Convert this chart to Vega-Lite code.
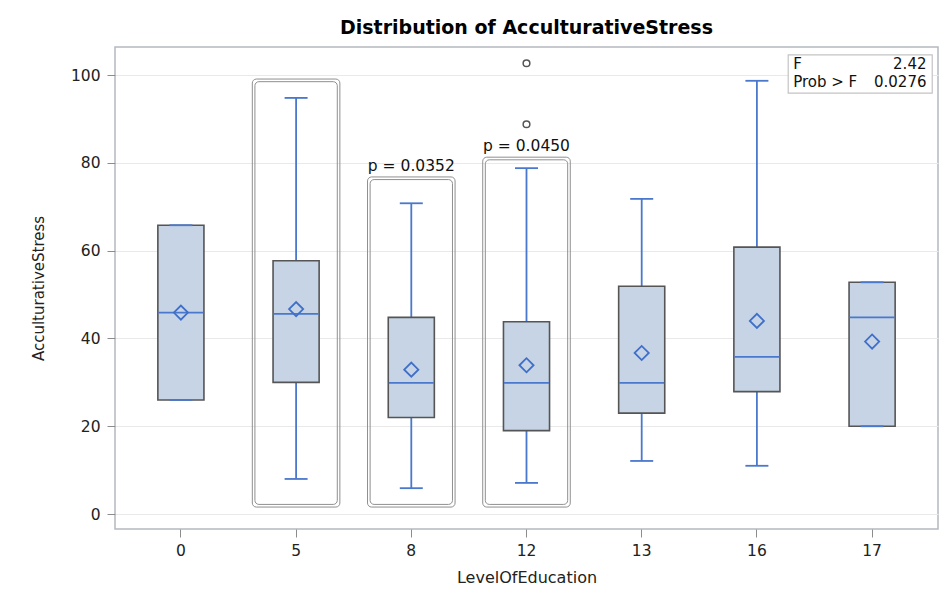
{
  "$schema": "https://vega.github.io/schema/vega-lite/v6.json",
  "width": 823,
  "height": 482,
  "autosize": "none",
  "padding": {"left": 115, "top": 47, "right": 5, "bottom": 73},
  "background": "white",
  "config": {
    "font": "DejaVu Sans",
    "view": {"stroke": "#b4b9be", "strokeWidth": 1.5},
    "axis": {"labelColor": "#222222", "titleColor": "#222222", "titleFontWeight": "normal", "domain": false, "tickColor": "#8c8c8c", "gridColor": "#e9e9e9"}
  },
  "title": {"text": "Distribution of AcculturativeStress", "fontSize": 19, "fontWeight": "bold", "font": "DejaVu Sans", "color": "#000000", "anchor": "middle", "offset": 9},
  "datasets": {
    "boxes": [
      {"cat": "0", "min": 26, "q1": 26, "median": 45.9, "q3": 65.8, "max": 65.8, "mean": 45.9},
      {"cat": "5", "min": 8, "q1": 30, "median": 45.6, "q3": 57.7, "max": 94.8, "mean": 46.7},
      {"cat": "8", "min": 5.9, "q1": 22, "median": 29.9, "q3": 44.8, "max": 70.8, "mean": 32.9},
      {"cat": "12", "min": 7.1, "q1": 19, "median": 29.9, "q3": 43.8, "max": 78.8, "mean": 33.9},
      {"cat": "13", "min": 12.1, "q1": 23, "median": 29.9, "q3": 51.9, "max": 71.8, "mean": 36.7},
      {"cat": "16", "min": 11, "q1": 27.9, "median": 35.8, "q3": 60.8, "max": 98.7, "mean": 44.0},
      {"cat": "17", "min": 20, "q1": 20, "median": 44.8, "q3": 52.8, "max": 52.8, "mean": 39.3}
    ],
    "outliers": [
      {"cat": "12", "value": 102.7},
      {"cat": "12", "value": 88.8}
    ],
    "frames": [
      {"cat": "5", "top": 99.1, "bottom": 1.6, "topIn": 98.5, "bottomIn": 2.2},
      {"cat": "8", "top": 76.8, "bottom": 1.6, "topIn": 76.2, "bottomIn": 2.2},
      {"cat": "12", "top": 81.3, "bottom": 1.6, "topIn": 80.7, "bottomIn": 2.2}
    ],
    "plabels": [
      {"cat": "8", "y": 79.2, "label": "p = 0.0352"},
      {"cat": "12", "y": 83.8, "label": "p = 0.0450"}
    ],
    "legendbox": [
      {"x1": 0.818, "x2": 0.993, "y1": 95.9, "y2": 104.6}
    ],
    "legendleft": [
      {"fx": 0.824, "fy": 102.5, "t": "F"},
      {"fx": 0.824, "fy": 98.4, "t": "Prob > F"}
    ],
    "legendright": [
      {"fx": 0.986, "fy": 102.5, "t": "2.42"},
      {"fx": 0.986, "fy": 98.4, "t": "0.0276"}
    ]
  },
  "layer": [
    {
      "layer": [
        {
          "data": {"name": "frames"},
          "mark": {"type": "bar", "fillOpacity": 0, "stroke": "#8f8f8f", "strokeWidth": 1, "width": {"band": 0.76}, "cornerRadius": 4},
          "encoding": {
            "x": {"field": "cat", "type": "nominal", "sort": ["0", "5", "8", "12", "13", "16", "17"],
                  "scale": {"type": "band", "domain": ["0", "5", "8", "12", "13", "16", "17"], "paddingInner": 0, "paddingOuter": 0.072},
                  "axis": {"title": "LevelOfEducation", "labelAngle": 0, "labelFontSize": 15.5, "titleFontSize": 16, "tickSize": 8, "labelPadding": 6, "titlePadding": 11, "grid": false}},
            "y": {"field": "top", "type": "quantitative",
                  "scale": {"domain": [-3.4, 106.4], "nice": false, "zero": false},
                  "axis": {"title": "AcculturativeStress", "values": [0, 20, 40, 60, 80, 100], "grid": true, "tickSize": 8, "labelPadding": 7, "labelFontSize": 15.5, "titleFontSize": 15, "titlePadding": 24}},
            "y2": {"field": "bottom"}
          }
        },
        {
          "data": {"name": "frames"},
          "mark": {"type": "bar", "fillOpacity": 0, "stroke": "#8f8f8f", "strokeWidth": 1, "width": {"band": 0.715}, "cornerRadius": 4},
          "encoding": {
            "x": {"field": "cat", "type": "nominal", "sort": ["0", "5", "8", "12", "13", "16", "17"]},
            "y": {"field": "topIn", "type": "quantitative"},
            "y2": {"field": "bottomIn"}
          }
        },
        {
          "data": {"name": "boxes"},
          "mark": {"type": "rule", "color": "#4a78cc", "strokeWidth": 1.8},
          "encoding": {
            "x": {"field": "cat", "type": "nominal", "sort": ["0", "5", "8", "12", "13", "16", "17"]},
            "y": {"field": "min", "type": "quantitative"},
            "y2": {"field": "max"}
          }
        },
        {
          "data": {"name": "boxes"},
          "mark": {"type": "bar", "fill": "#c6d4e6", "stroke": "#555555", "strokeWidth": 1.6, "width": {"band": 0.4}},
          "encoding": {
            "x": {"field": "cat", "type": "nominal", "sort": ["0", "5", "8", "12", "13", "16", "17"]},
            "y": {"field": "q1", "type": "quantitative"},
            "y2": {"field": "q3"}
          }
        },
        {
          "data": {"name": "boxes"},
          "mark": {"type": "tick", "color": "#4a78cc", "size": 45, "thickness": 1.8, "opacity": 1},
          "encoding": {
            "x": {"field": "cat", "type": "nominal", "sort": ["0", "5", "8", "12", "13", "16", "17"]},
            "y": {"field": "median", "type": "quantitative"}
          }
        },
        {
          "data": {"name": "boxes"},
          "mark": {"type": "tick", "color": "#4a78cc", "size": 23, "thickness": 1.8, "opacity": 1},
          "encoding": {
            "x": {"field": "cat", "type": "nominal", "sort": ["0", "5", "8", "12", "13", "16", "17"]},
            "y": {"field": "min", "type": "quantitative"}
          }
        },
        {
          "data": {"name": "boxes"},
          "mark": {"type": "tick", "color": "#4a78cc", "size": 23, "thickness": 1.8, "opacity": 1},
          "encoding": {
            "x": {"field": "cat", "type": "nominal", "sort": ["0", "5", "8", "12", "13", "16", "17"]},
            "y": {"field": "max", "type": "quantitative"}
          }
        },
        {
          "data": {"name": "boxes"},
          "mark": {"type": "point", "shape": "diamond", "filled": false, "stroke": "#3f6fc8", "strokeWidth": 1.8, "size": 200, "opacity": 1},
          "encoding": {
            "x": {"field": "cat", "type": "nominal", "sort": ["0", "5", "8", "12", "13", "16", "17"]},
            "y": {"field": "mean", "type": "quantitative"}
          }
        },
        {
          "data": {"name": "outliers"},
          "mark": {"type": "point", "shape": "circle", "filled": false, "stroke": "#555555", "strokeWidth": 1.5, "size": 45, "opacity": 1},
          "encoding": {
            "x": {"field": "cat", "type": "nominal", "sort": ["0", "5", "8", "12", "13", "16", "17"]},
            "y": {"field": "value", "type": "quantitative"}
          }
        },
        {
          "data": {"name": "plabels"},
          "mark": {"type": "text", "fontSize": 15.5, "color": "#111111", "baseline": "middle", "align": "center"},
          "encoding": {
            "x": {"field": "cat", "type": "nominal", "sort": ["0", "5", "8", "12", "13", "16", "17"]},
            "y": {"field": "y", "type": "quantitative"},
            "text": {"field": "label"}
          }
        }
      ]
    },
    {
      "layer": [
        {
          "data": {"name": "legendbox"},
          "mark": {"type": "rect", "fill": "white", "stroke": "#c4c4c4", "strokeWidth": 1.2},
          "encoding": {
            "x": {"field": "x1", "type": "quantitative", "scale": {"domain": [0, 1], "nice": false, "zero": false}, "axis": null},
            "x2": {"field": "x2"},
            "y": {"field": "y1", "type": "quantitative"},
            "y2": {"field": "y2"}
          }
        },
        {
          "data": {"name": "legendleft"},
          "mark": {"type": "text", "fontSize": 15, "color": "#111111", "align": "left", "baseline": "middle"},
          "encoding": {
            "x": {"field": "fx", "type": "quantitative", "axis": null},
            "y": {"field": "fy", "type": "quantitative"},
            "text": {"field": "t"}
          }
        },
        {
          "data": {"name": "legendright"},
          "mark": {"type": "text", "fontSize": 15, "color": "#111111", "align": "right", "baseline": "middle"},
          "encoding": {
            "x": {"field": "fx", "type": "quantitative", "axis": null},
            "y": {"field": "fy", "type": "quantitative"},
            "text": {"field": "t"}
          }
        }
      ]
    }
  ],
  "resolve": {"scale": {"x": "independent"}, "axis": {"x": "independent"}}
}
